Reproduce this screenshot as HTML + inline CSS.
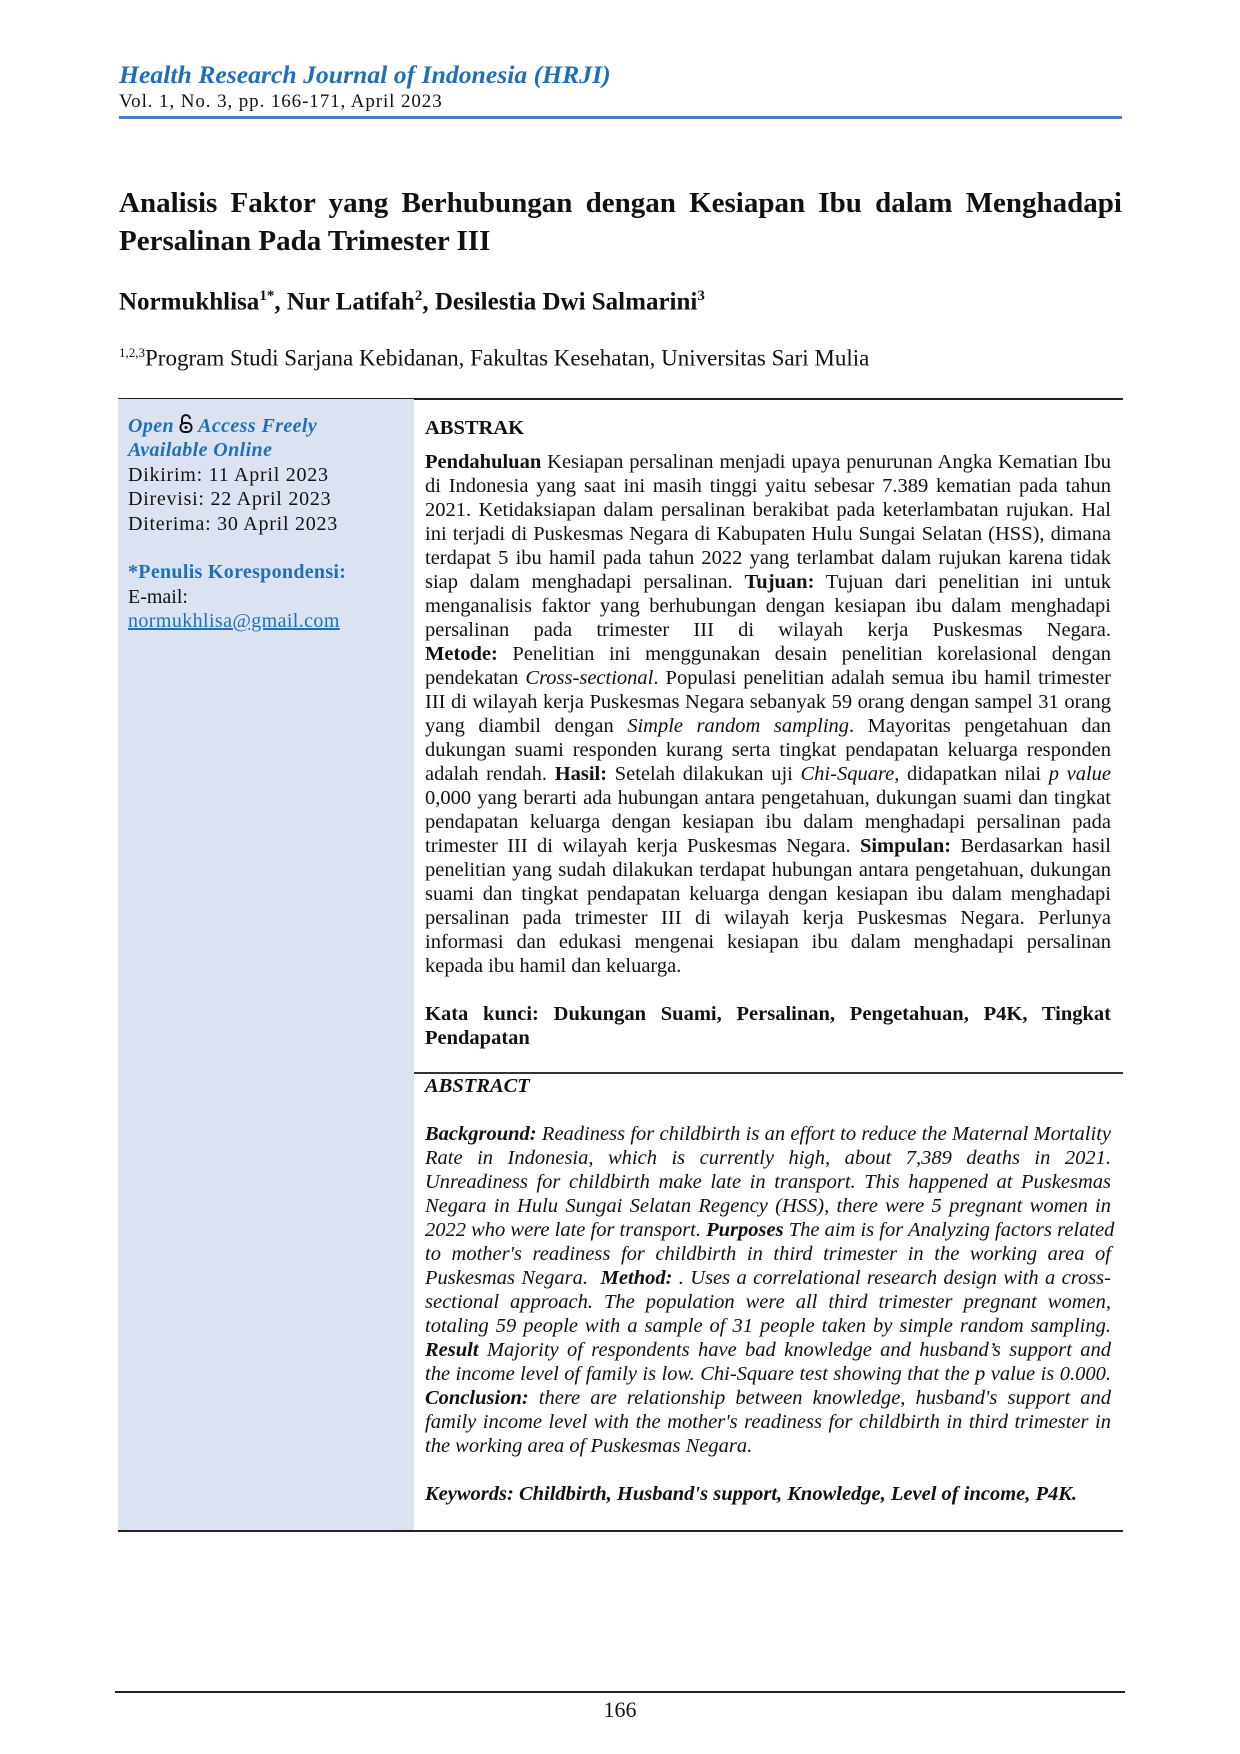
<!DOCTYPE html>
<html><head><meta charset="utf-8">
<style>
*{margin:0;padding:0;box-sizing:border-box}
body{width:1240px;height:1754px;background:#fff;position:relative;font-family:"Liberation Serif",serif;color:#111;overflow:hidden}
.a{position:absolute;white-space:nowrap}
.j{position:absolute;text-align:justify;text-align-last:justify;white-space:nowrap;overflow:visible}
.r{left:425px;width:686px;font-size:20.5px;line-height:24px}
.l{left:128px;font-size:20px;line-height:24.4px}
.blue{color:#1f6fb8}
.bi{font-weight:bold;font-style:italic}
</style></head><body>
<div class="a bi blue" style="left:119px;top:60px;font-size:25.7px">Health Research Journal of Indonesia (HRJI)</div>
<div class="a" style="left:119px;top:91px;font-size:19px;letter-spacing:0.9px">Vol. 1, No. 3, pp. 166-171, April 2023</div>
<div class="a" style="left:119px;top:116px;width:1003px;height:3px;background:#4a7cc9"></div>

<div class="j" style="left:119px;top:187px;width:1003px;font-size:29px;font-weight:bold">Analisis Faktor yang Berhubungan dengan Kesiapan Ibu dalam Menghadapi</div>
<div class="a" style="left:119px;top:225px;font-size:29px;font-weight:bold">Persalinan Pada Trimester III</div>
<div class="a" style="left:119px;top:288px;font-size:25px;font-weight:bold">Normukhlisa<sup style="font-size:15px">1*</sup>, Nur Latifah<sup style="font-size:15px">2</sup>, Desilestia Dwi Salmarini<sup style="font-size:15px">3</sup></div>
<div class="a" style="left:119px;top:345px;font-size:23px"><sup style="font-size:13px">1,2,3</sup>Program Studi Sarjana Kebidanan, Fakultas Kesehatan, Universitas Sari Mulia</div>

<div class="a" style="left:118px;top:398px;width:1005px;height:1.5px;background:#222"></div>
<div class="a" style="left:118px;top:399px;width:296px;height:1131px;background:#dbe3f3"></div>
<div class="a" style="left:414px;top:1072px;width:709px;height:1.5px;background:#333"></div>
<div class="a" style="left:118px;top:1530px;width:1005px;height:1.5px;background:#222"></div>

<div class="a l bi blue" style="top:414px;letter-spacing:0.4px">Open <svg width="14" height="20" viewBox="0 0 14 20" style="vertical-align:-2px"><path d="M3 9V5a4 4 0 0 1 8 0" fill="none" stroke="#111" stroke-width="2"/><rect x="1.5" y="9" width="11" height="9" rx="4" fill="none" stroke="#111" stroke-width="2"/><circle cx="7" cy="13.5" r="1.5" fill="#111"/></svg> Access Freely</div>
<div class="a l bi blue" style="top:438px;letter-spacing:0.4px">Available Online</div>
<div class="a l" style="top:463px;letter-spacing:0.75px">Dikirim: 11 April 2023</div>
<div class="a l" style="top:487px;letter-spacing:0.75px">Direvisi: 22 April 2023</div>
<div class="a l" style="top:512px;letter-spacing:0.75px">Diterima: 30 April 2023</div>
<div class="a l blue" style="top:560px;font-weight:bold;letter-spacing:0.3px">*Penulis Korespondensi:</div>
<div class="a l" style="top:585px">E-mail:</div>
<div class="a l blue" style="top:609px;text-decoration:underline;letter-spacing:0.4px">normukhlisa@gmail.com</div>

<div class="a r" style="top:416px;font-weight:bold">ABSTRAK</div>
<div class="j r" style="top:450px"><b>Pendahuluan</b> Kesiapan persalinan menjadi upaya penurunan Angka Kematian Ibu</div>
<div class="j r" style="top:474px">di Indonesia yang saat ini masih tinggi yaitu sebesar 7.389 kematian pada tahun</div>
<div class="j r" style="top:498px">2021. Ketidaksiapan dalam persalinan berakibat pada keterlambatan rujukan. Hal</div>
<div class="j r" style="top:522px">ini terjadi di Puskesmas Negara di Kabupaten Hulu Sungai Selatan (HSS), dimana</div>
<div class="j r" style="top:546px">terdapat 5 ibu hamil pada tahun 2022 yang terlambat dalam rujukan karena tidak</div>
<div class="j r" style="top:570px">siap dalam menghadapi persalinan. <b>Tujuan:</b> Tujuan dari penelitian ini untuk</div>
<div class="j r" style="top:594px">menganalisis faktor yang berhubungan dengan kesiapan ibu dalam menghadapi</div>
<div class="j r" style="top:618px">persalinan pada trimester III di wilayah kerja Puskesmas Negara.</div>
<div class="j r" style="top:642px"><b>Metode:</b> Penelitian ini menggunakan desain penelitian korelasional dengan</div>
<div class="j r" style="top:666px">pendekatan <i>Cross-sectional</i>. Populasi penelitian adalah semua ibu hamil trimester</div>
<div class="j r" style="top:690px">III di wilayah kerja Puskesmas Negara sebanyak 59 orang dengan sampel 31 orang</div>
<div class="j r" style="top:714px">yang diambil dengan <i>Simple random sampling</i>. Mayoritas pengetahuan dan</div>
<div class="j r" style="top:738px">dukungan suami responden kurang serta tingkat pendapatan keluarga responden</div>
<div class="j r" style="top:762px">adalah rendah. <b>Hasil:</b> Setelah dilakukan uji <i>Chi-Square</i>, didapatkan nilai <i>p value</i></div>
<div class="j r" style="top:786px">0,000 yang berarti ada hubungan antara pengetahuan, dukungan suami dan tingkat</div>
<div class="j r" style="top:810px">pendapatan keluarga dengan kesiapan ibu dalam menghadapi persalinan pada</div>
<div class="j r" style="top:834px">trimester III di wilayah kerja Puskesmas Negara. <b>Simpulan:</b> Berdasarkan hasil</div>
<div class="j r" style="top:858px">penelitian yang sudah dilakukan terdapat hubungan antara pengetahuan, dukungan</div>
<div class="j r" style="top:882px">suami dan tingkat pendapatan keluarga dengan kesiapan ibu dalam menghadapi</div>
<div class="j r" style="top:906px">persalinan pada trimester III di wilayah kerja Puskesmas Negara. Perlunya</div>
<div class="j r" style="top:930px">informasi dan edukasi mengenai kesiapan ibu dalam menghadapi persalinan</div>
<div class="a r" style="top:954px">kepada ibu hamil dan keluarga.</div>
<div class="j r" style="top:1002px;font-weight:bold">Kata kunci: Dukungan Suami, Persalinan, Pengetahuan, P4K, Tingkat</div>
<div class="a r" style="top:1026px;font-weight:bold">Pendapatan</div>

<div class="a r bi" style="top:1074px">ABSTRACT</div>
<div class="j r" style="top:1122px;font-style:italic"><b>Background:</b> Readiness for childbirth is an effort to reduce the Maternal Mortality</div>
<div class="j r" style="top:1146px;font-style:italic">Rate in Indonesia, which is currently high, about 7,389 deaths in 2021.</div>
<div class="j r" style="top:1170px;font-style:italic">Unreadiness for childbirth make late in transport. This happened at Puskesmas</div>
<div class="j r" style="top:1194px;font-style:italic">Negara in Hulu Sungai Selatan Regency (HSS), there were 5 pregnant women in</div>
<div class="j r" style="top:1218px;font-style:italic">2022 who were late for transport. <b>Purposes</b> The aim is for Analyzing factors related</div>
<div class="j r" style="top:1242px;font-style:italic">to mother's readiness for childbirth in third trimester in the working area of</div>
<div class="j r" style="top:1266px;font-style:italic">Puskesmas Negara. &nbsp;<b>Method:</b> . Uses a correlational research design with a cross-</div>
<div class="j r" style="top:1290px;font-style:italic">sectional approach. The population were all third trimester pregnant women,</div>
<div class="j r" style="top:1314px;font-style:italic">totaling 59 people with a sample of 31 people taken by simple random sampling.</div>
<div class="j r" style="top:1338px;font-style:italic"><b>Result</b> Majority of respondents have bad knowledge and husband’s support and</div>
<div class="j r" style="top:1362px;font-style:italic">the income level of family is low. Chi-Square test showing that the p value is 0.000.</div>
<div class="j r" style="top:1386px;font-style:italic"><b>Conclusion:</b> there are relationship between knowledge, husband's support and</div>
<div class="j r" style="top:1410px;font-style:italic">family income level with the mother's readiness for childbirth in third trimester in</div>
<div class="a r" style="top:1434px;font-style:italic">the working area of Puskesmas Negara.</div>
<div class="a r bi" style="top:1482px">Keywords: Childbirth, Husband's support, Knowledge, Level of income, P4K.</div>

<div class="a" style="left:115px;top:1691px;width:1010px;height:1.5px;background:#222"></div>
<div class="a" style="left:0;width:1240px;text-align:center;top:1697px;font-size:22px">166</div>
</body></html>
